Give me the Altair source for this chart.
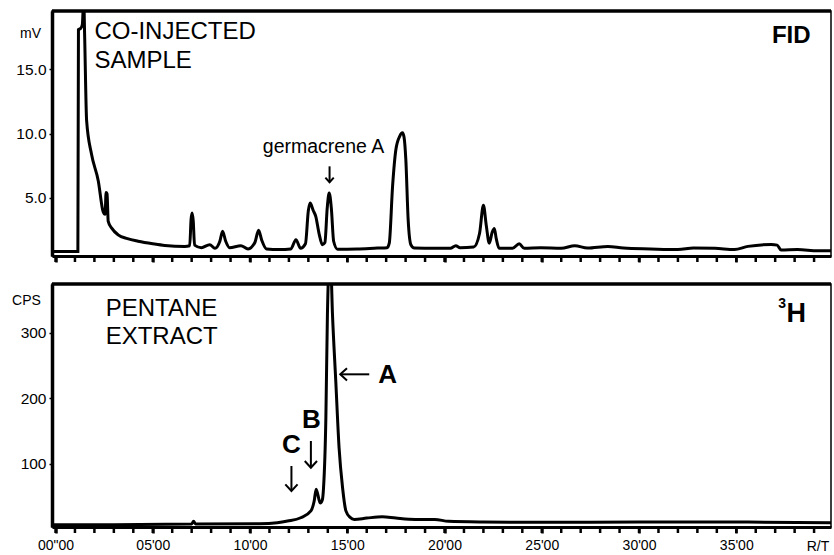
import altair as alt
import pandas as pd

# ---------------- data ----------------
# FID trace (top panel): retention time (min) / signal (mV)
fid_time = [-0.15, 1.15, 1.18, 1.30, 1.38, 1.45, 1.50, 1.60, 1.85, 2.20, 2.45, 2.55, 2.60, 2.65, 2.71,
            2.90, 3.22, 3.70, 4.25, 5.00, 5.62, 6.65, 6.90, 6.97, 7.02, 7.08, 7.15, 7.50, 7.93, 8.20,
            8.45, 8.59, 8.75, 8.95, 9.53, 9.90, 10.25, 10.44, 10.60, 10.85, 11.50, 12.10, 12.36, 12.60,
            12.85, 13.00, 13.09, 13.25, 13.38, 13.55, 13.72, 13.85, 13.97, 14.07, 14.18, 14.30, 14.50,
            15.50, 16.55, 17.05, 17.16, 17.33, 17.50, 17.70, 17.84, 17.92, 18.01, 18.13, 18.27, 18.45,
            19.50, 20.30, 20.58, 20.80, 21.50, 21.80, 22.00, 22.15, 22.30, 22.45, 22.56, 22.66, 22.81,
            23.50, 23.84, 24.10, 24.95, 26.00, 26.70, 27.35, 28.40, 29.20, 30.60, 32.00, 32.80, 33.90,
            34.90, 35.60, 36.80, 37.10, 37.30, 38.15, 39.20, 39.90]
fid_mv = [0.80, 0.80, 18.1, 18.2, 18.5, 20.5, 17.5, 11.0, 8.4, 6.3, 3.9, 3.7, 5.4, 5.3, 3.15,
          2.6, 2.1, 1.8, 1.6, 1.4, 1.27, 1.2, 1.25, 3.3, 3.8, 3.2, 1.3, 1.1, 1.33, 1.05,
          1.6, 2.37, 1.6, 1.1, 1.25, 1.0, 1.5, 2.45, 1.7, 1.0, 0.95, 1.0, 1.72, 1.05,
          1.4, 4.0, 4.58, 4.0, 3.54, 2.2, 1.33, 1.5, 4.2, 5.37, 4.2, 1.6, 0.98,
          1.0, 1.07, 1.1, 1.45, 5.9, 8.75, 9.8, 10.05, 9.7, 8.0, 3.3, 1.33, 1.07,
          1.05, 1.05, 1.25, 1.1, 1.15, 2.2, 4.4, 2.8, 1.45, 2.3, 2.6, 1.8, 1.05,
          1.05, 1.4, 1.05, 1.1, 1.05, 1.25, 1.07, 1.2, 1.07, 1.0, 0.95, 1.07, 1.05,
          0.95, 1.2, 1.35, 1.3, 0.92, 0.95, 0.85, 0.85]

# 3H radio trace (bottom panel): retention time (min) / counts per second
h3_time = [-0.15, 3.0, 7.0, 7.1, 7.2, 10.5, 11.4, 11.93, 12.61, 13.13, 13.3, 13.4, 13.61, 13.72,
           13.78, 13.9, 13.98, 14.07, 14.15, 14.24, 14.41, 14.58, 14.76, 14.93, 15.15, 15.36, 16.0,
           16.8, 17.5, 18.5, 19.5, 20.2, 22.0, 25.0, 30.0, 35.0, 39.9]
h3_cps = [7, 7, 8, 12, 8, 8.5, 10, 12.5, 17.5, 28, 43, 61, 40, 45,
          63, 170, 328, 400, 400, 328, 226, 124, 63, 28, 18, 15, 17,
          19, 17, 15, 15, 12, 11, 10.5, 11, 11, 10]

minute_ticks = list(range(0, 40))          # one tick per minute
label_ticks = [0, 5, 10, 15, 20, 25, 30, 35]
label_texts = ['00"00', "05'00", "10'00", "15'00", "20'00", "25'00", "30'00", "35'00"]
fid_y_ticks = [5, 10, 15]
h3_y_ticks = [100, 200, 300]

# annotations (position in data units)
top_plain = pd.DataFrame({"t": [2.0, 2.0], "v": [17.36, 15.14], "text": ["CO-INJECTED", "SAMPLE"]})
top_bold = pd.DataFrame({"t": [38.82], "v": [17.03], "text": ["FID"]})
germ_label = pd.DataFrame({"t": [13.78], "v": [8.51], "text": ["germacrene A"]})
germ_arrow = pd.DataFrame({"t": [14.09], "v1": [7.44], "v2": [6.2]})

bot_plain = pd.DataFrame({"t": [2.58, 2.58], "v": [325.5, 282.3], "text": ["PENTANE", "EXTRACT"]})
bot_h = pd.DataFrame({"t": [38.58], "v": [315.7], "text": ["H"]})
bot_sup = pd.DataFrame({"t": [37.16], "v": [338.2], "text": ["3"]})
peak_letters = pd.DataFrame({"t": [17.07, 13.16, 12.13], "v": [223.7, 155.0, 116.8], "text": ["A", "B", "C"]})
peak_down_arrows = pd.DataFrame({"t": [13.13, 12.13], "v1": [134.7, 96.5], "v2": [93.9, 58.3]})
peak_left_arrow = pd.DataFrame({"t1": [14.64], "t2": [16.13], "v": [236.5]})
rt_label = pd.DataFrame({"t": [39.78], "text": ["R/T"]})

FONT = "Liberation Sans"
W = 779
H_TOP = 245
H_BOT = 243
X_DOMAIN = [-0.18, 39.87]
TOP_DOMAIN = [0.45, 19.55]
BOT_DOMAIN = [3.4, 374.4]

fid_df = pd.DataFrame({"t": fid_time, "v": fid_mv})
h3_df = pd.DataFrame({"t": h3_time, "v": h3_cps})
minute_df = pd.DataFrame({"t": minute_ticks})
dummy = pd.DataFrame({"a": [0]})

label_expr = "{" + ", ".join(f"'{v}': '{s}'" for v, s in zip(label_ticks, label_texts)).replace("'00\"00'", "'00\\\"00'") + "}"
label_expr = ("[" + ", ".join('"' + s.replace('"', '\\"') + '"' for s in label_texts) + "]"
              "[datum.value / 5]")

DOWN_HEAD = "M-1,-1.1L0,0L1,-1.1"
LEFT_HEAD = "M1.1,-1L0,0L1.1,1"


def x_axis(show_labels):
    kw = dict(values=label_ticks, tickSize=6, tickWidth=2.5, domainWidth=3, grid=False, title=None,
              labelFlush=False, labelOverlap=False)
    if show_labels:
        kw.update(labels=True, labelExpr=label_expr, labelFontSize=14, labelPadding=5)
    else:
        kw.update(labels=False)
    return alt.Axis(**kw)


def y_axis(vals, fmt, title, tx, ty):
    return alt.Axis(values=vals, format=fmt, tickSize=3, tickWidth=1.5, labelPadding=3,
                    labelFontSize=15.5, domainWidth=3.5, grid=False, title=title, titleAngle=0,
                    titleX=tx, titleY=ty, titleAlign="center", titleBaseline="alphabetic",
                    titleFontSize=14, titleFontWeight="normal", minExtent=50, maxExtent=50,
                    labelOverlap=False)


def xsc():
    return alt.Scale(domain=X_DOMAIN, nice=False, zero=False)


def ysc(ydom):
    return alt.Scale(domain=ydom, nice=False, zero=False)


def text_layer(df, ydom, size, weight="normal", align="left", baseline="alphabetic"):
    return alt.Chart(df).mark_text(fontSize=size, fontWeight=weight, align=align,
                                   baseline=baseline, color="black", font=FONT).encode(
        x=alt.X("t:Q", scale=xsc()), y=alt.Y("v:Q", scale=ysc(ydom)), text="text:N")


def minor_ticks(h):
    return alt.Chart(minute_df).mark_rule(color="black", strokeWidth=2.5).encode(
        x=alt.X("t:Q", scale=xsc()), y=alt.value(h), y2=alt.value(h + 6))


def down_arrow_layers(df, ydom, head_size):
    stem = alt.Chart(df).mark_rule(color="black", strokeWidth=2).encode(
        x=alt.X("t:Q", scale=xsc()), y=alt.Y("v1:Q", scale=ysc(ydom)), y2="v2:Q")
    head = alt.Chart(df).mark_point(shape=DOWN_HEAD, filled=False, color="black", strokeWidth=2,
                                    size=head_size, opacity=1).encode(
        x=alt.X("t:Q", scale=xsc()), y=alt.Y("v2:Q", scale=ysc(ydom)))
    return [stem, head]


def left_arrow_layers(df, ydom, head_size):
    stem = alt.Chart(df).mark_rule(color="black", strokeWidth=2).encode(
        x=alt.X("t1:Q", scale=xsc()), x2="t2:Q", y=alt.Y("v:Q", scale=ysc(ydom)))
    head = alt.Chart(df).mark_point(shape=LEFT_HEAD, filled=False, color="black", strokeWidth=2,
                                    size=head_size, opacity=1).encode(
        x=alt.X("t1:Q", scale=xsc()), y=alt.Y("v:Q", scale=ysc(ydom)))
    return [stem, head]


top_line = alt.Chart(fid_df).mark_line(color="black", strokeWidth=3, clip=True,
                                       interpolate="monotone").encode(
    x=alt.X("t:Q", scale=xsc(), axis=x_axis(False)),
    y=alt.Y("v:Q", scale=ysc(TOP_DOMAIN), axis=y_axis(fid_y_ticks, ".1f", "mV", -22, 26.5)))
top_border = alt.Chart(dummy).mark_rule(color="black", strokeWidth=3.5).encode(
    x=alt.value(0), x2=alt.value(W), y=alt.value(0))

top = alt.layer(
    top_line, top_border, minor_ticks(H_TOP),
    text_layer(top_plain, TOP_DOMAIN, 24),
    text_layer(top_bold, TOP_DOMAIN, 24, "bold", "right"),
    text_layer(germ_label, TOP_DOMAIN, 19.5, align="center"),
    *down_arrow_layers(germ_arrow, TOP_DOMAIN, 70),
).properties(width=W, height=H_TOP)

bot_line = alt.Chart(h3_df).mark_line(color="black", strokeWidth=3, clip=True,
                                      interpolate="monotone").encode(
    x=alt.X("t:Q", scale=xsc(), axis=x_axis(True)),
    y=alt.Y("v:Q", scale=ysc(BOT_DOMAIN), axis=y_axis(h3_y_ticks, "d", "CPS", -26, 20.3)))
bot_border = alt.Chart(dummy).mark_rule(color="black", strokeWidth=3.5).encode(
    x=alt.value(0), x2=alt.value(W), y=alt.value(0))
rt = alt.Chart(rt_label).mark_text(fontSize=14, align="right", baseline="alphabetic",
                                   color="black", font=FONT).encode(
    x=alt.X("t:Q", scale=xsc()), y=alt.value(H_BOT + 24), text="text:N")

bottom = alt.layer(
    bot_line, bot_border, minor_ticks(H_BOT),
    text_layer(bot_plain, BOT_DOMAIN, 24),
    text_layer(bot_h, BOT_DOMAIN, 27, "bold", "right"),
    text_layer(bot_sup, BOT_DOMAIN, 14, "bold", "left"),
    text_layer(peak_letters, BOT_DOMAIN, 26, "bold", "center"),
    *down_arrow_layers(peak_down_arrows, BOT_DOMAIN, 150),
    *left_arrow_layers(peak_left_arrow, BOT_DOMAIN, 150),
    rt,
).properties(width=W, height=H_BOT)

chart = alt.vconcat(top, bottom, spacing=17).properties(
    padding={"left": 1, "top": 8, "right": 0, "bottom": 0}
).configure_view(stroke="black", strokeWidth=1.5).configure_axis(
    labelFont=FONT, titleFont=FONT, domainColor="black", tickColor="black",
    labelColor="black", titleColor="black", labelOverlap=False)

chart.save("out.html", embed_options={"renderer": "svg", "actions": False})
